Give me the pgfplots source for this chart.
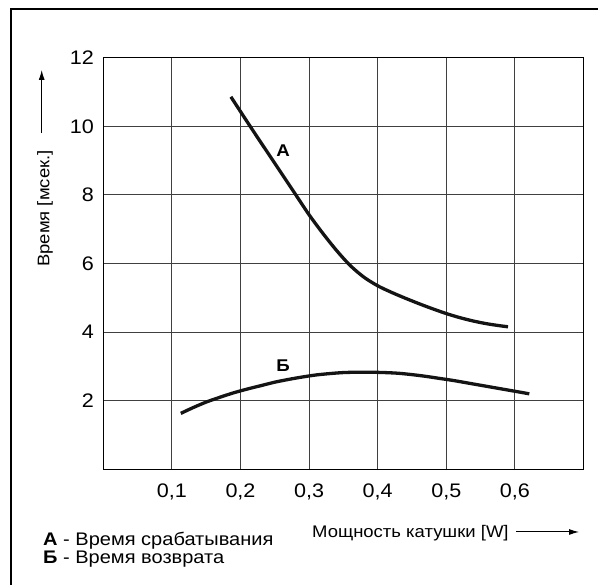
\documentclass[border=0pt]{standalone}
\usepackage{fontspec}
\setmainfont{Liberation Sans}[FakeStretch=1.1]
\usepackage{pgfplots}
\pgfplotsset{compat=1.18}
\usetikzlibrary{arrows.meta}
\begin{document}
\fontsize{16.8}{19}\selectfont
\begin{tikzpicture}[x=1pt,y=1pt]
\useasboundingbox (-103.3,-115.7) rectangle (494.7,469.3);
\draw[line width=1.3pt] (-92.3,-130) -- (-92.3,460.3) -- (510,460.3);
\begin{axis}[
  at={(0,0)}, anchor=south west,
  scale only axis, width=480.2pt, height=411.6pt,
  xmin=0, xmax=0.7, ymin=0, ymax=12,
  xtick={0.1,0.2,0.3,0.4,0.5,0.6},
  ytick={2,4,6,8,10,12},
  grid=major,
  major grid style={black!75, line width=0.8pt},
  axis line style={line width=1pt},
  major tick length=0pt,
  tick label style={font=\fontsize{19.6}{22}\selectfont},
  /pgf/number format/assume math mode=true,
  xticklabel style={/pgf/number format/.cd, fixed, fixed zerofill, precision=1, use comma, /tikz/.cd, anchor=base, inner sep=0pt, yshift=-28.7pt},
  yticklabel style={anchor=east, inner sep=0pt, xshift=-9.3pt},
  xlabel={Мощность катушки [W]},
  xlabel style={at={(axis description cs:0.4346,-0.1655)}, anchor=base west, inner sep=0pt},
  ylabel={Время [мсек.]},
  ylabel style={at={(axis description cs:-0.1125,0.4915)}, anchor=base west, inner sep=0pt},
]
\addplot[smooth, line width=3.3pt, black!92, no markers] coordinates {
 (0.186,10.86) (0.20,10.43) (0.22,9.82) (0.24,9.22) (0.26,8.62) (0.28,8.02)
 (0.30,7.42) (0.32,6.88) (0.34,6.38) (0.36,5.94) (0.38,5.60) (0.40,5.35)
 (0.42,5.16) (0.44,4.99) (0.46,4.83) (0.48,4.68) (0.50,4.54) (0.52,4.42)
 (0.54,4.32) (0.56,4.24) (0.58,4.18) (0.59,4.155)};
\addplot[smooth, line width=3.3pt, black!92, no markers] coordinates {
 (0.113,1.63) (0.13,1.79) (0.15,1.96) (0.17,2.10) (0.19,2.23) (0.21,2.34)
 (0.23,2.44) (0.25,2.54) (0.27,2.62) (0.29,2.69) (0.31,2.75) (0.33,2.79)
 (0.35,2.82) (0.37,2.83) (0.39,2.83) (0.41,2.82) (0.43,2.80) (0.45,2.76)
 (0.47,2.71) (0.49,2.65) (0.51,2.59) (0.53,2.52) (0.55,2.45) (0.57,2.38)
 (0.59,2.31) (0.61,2.24) (0.621,2.20)};
\node[font=\fontsize{17}{19}\selectfont\bfseries] at (axis cs:0.262,9.29) {А};
\node[font=\fontsize{17}{19}\selectfont\bfseries] at (axis cs:0.262,3.03) {Б};
\end{axis}
\draw[line width=1pt, -{Latex[length=10pt,width=6pt]}] (-61.6,336.3) -- (-61.6,399.3);
\draw[line width=1pt, -{Latex[length=10pt,width=6pt]}] (412.7,-62.7) -- (475.7,-62.7);
\begin{scope}[font=\fontsize{18.2}{21}\selectfont]
\node[anchor=base west, inner sep=0pt] at (-60.3,-76.7) {\textbf{А} - Время срабатывания};
\node[anchor=base west, inner sep=0pt] at (-60.3,-94.2) {\textbf{Б} - Время возврата};
\end{scope}
\end{tikzpicture}
\end{document}
